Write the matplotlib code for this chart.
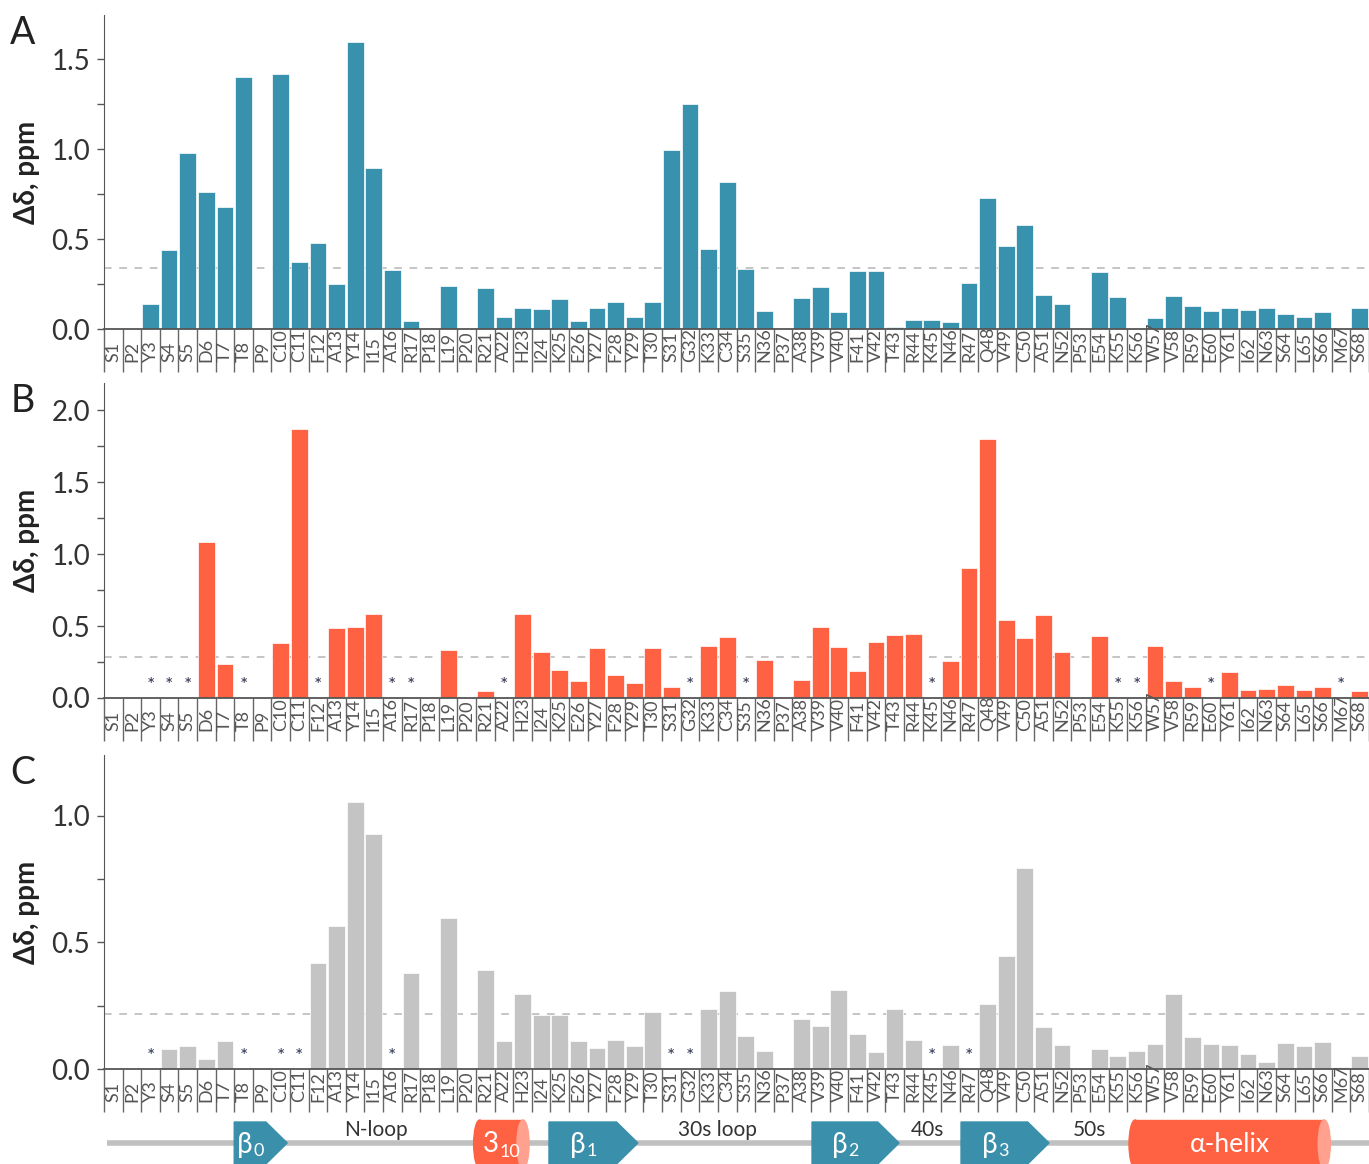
import matplotlib
matplotlib.use("Agg")
import matplotlib.pyplot as plt
import numpy as np
from matplotlib.patches import Polygon, Rectangle, Ellipse

plt.rcParams['font.family'] = ['Lato', 'DejaVu Sans']

sequence = "SPYSSDTTPCCFAYIARPLPRAHIKEYFYTSGKCSNPAVVFVTRKNRQVCANPEKKWVREYINSLSMS"
residues = [f"{aa}{i + 1}" for i, aa in enumerate(sequence)]

shift_a = [0, 0, 0.137, 0.437, 0.976, 0.763, 0.676, 1.402, 0, 1.419,
           0.370, 0.476, 0.250, 1.596, 0.893, 0.328, 0.046, 0, 0.241, 0,
           0.228, 0.065, 0.115, 0.109, 0.167, 0.043, 0.119, 0.148, 0.067, 0.152,
           0.994, 1.252, 0.443, 0.819, 0.335, 0.098, 0, 0.174, 0.233, 0.094,
           0.320, 0.320, 0.011, 0.052, 0.052, 0.037, 0.254, 0.730, 0.463, 0.580,
           0.189, 0.137, 0, 0.315, 0.178, 0, 0.059, 0.181, 0.126, 0.100,
           0.119, 0.107, 0.115, 0.081, 0.067, 0.093, 0, 0.119]

shift_b = [0, 0, 0, 0, 0, 1.084, 0.237, 0, 0, 0.379,
           1.872, 0, 0.486, 0.491, 0.586, 0, 0, 0, 0.333, 0,
           0.051, 0, 0.581, 0.319, 0.195, 0.121, 0.347, 0.163, 0.107, 0.347,
           0.079, 0, 0.360, 0.426, 0, 0.263, 0, 0.126, 0.495, 0.356,
           0.191, 0.388, 0.440, 0.444, 0, 0.258, 0.905, 1.802, 0.540, 0.416,
           0.577, 0.319, 0, 0.433, 0, 0, 0.360, 0.116, 0.077, 0,
           0.181, 0.056, 0.060, 0.093, 0.056, 0.079, 0, 0.051]

shift_c = [0, 0, 0, 0.079, 0.089, 0.039, 0.111, 0, 0, 0,
           0, 0.420, 0.566, 1.053, 0.930, 0, 0.378, 0, 0.595, 0,
           0.392, 0.111, 0.297, 0.213, 0.213, 0.111, 0.082, 0.114, 0.089, 0.226,
           0, 0, 0.238, 0.308, 0.129, 0.071, 0, 0.199, 0.170, 0.311,
           0.139, 0.068, 0.236, 0.113, 0, 0.095, 0, 0.258, 0.446, 0.793,
           0.164, 0.095, 0, 0.079, 0.053, 0.071, 0.097, 0.297, 0.126, 0.097,
           0.095, 0.061, 0.029, 0.103, 0.089, 0.105, 0.007, 0.053]

stars_a = []
stars_b = [3, 4, 5, 8, 12, 16, 17, 22, 32, 35, 45, 55, 56, 60, 67]
stars_c = [3, 8, 10, 11, 16, 31, 32, 45, 47]

thresholds = [0.339, 0.285, 0.217]

# secondary structure: (kind, start, end, main text, subscript)
structure = [
    ("strand", 7.5, 10.35, "β", "0"),
    ("helix", 20.37, 23.35, "3", "10"),
    ("strand", 24.42, 29.2, "β", "1"),
    ("strand", 38.56, 43.24, "β", "2"),
    ("strand", 46.57, 51.3, "β", "3"),
    ("helix", 55.6, 66.42, "α-helix", ""),
]
loops = [("N-loop", 15.1), ("30s loop", 33.5), ("40s", 44.75), ("50s", 53.5)]

W, H = 1369, 1164
fig = plt.figure(figsize=(W / 100, H / 100), dpi=100)


def px_axes(left, top, right, bottom):
    return fig.add_axes([left / W, 1 - bottom / H, (right - left) / W, (bottom - top) / H])


x = np.arange(1, len(residues) + 1)
panels = [
    ("A", shift_a, stars_a, "#3892ad", 1.745, (15, 329)),
    ("B", shift_b, stars_b, "#ff6243", 2.19, (383, 698)),
    ("C", shift_c, stars_c, "#c4c4c4", 1.24, (755, 1069)),
]

for (letter, vals, stars, color, ymax, (top, bottom)), thr in zip(panels, thresholds):
    ax = px_axes(104, top, 1369, bottom)
    vals = np.array(vals)
    keep = vals > 0
    ax.bar(x[keep], vals[keep], width=0.9, color=color, edgecolor='white',
           linewidth=0.5, zorder=3)
    ax.axhline(thr, color='#b5b5b5', lw=1.1, ls=(0, (5, 5)), zorder=1)
    for s in stars:
        ax.annotate('*', (s, 0), xytext=(0, 9), textcoords='offset points',
                    ha='center', va='center', fontsize=14, color='#2d3550')
    ax.set_xlim(0.5, 68.5)
    ax.set_ylim(0, ymax)
    for side in ('top', 'right'):
        ax.spines[side].set_visible(False)
    ax.spines['left'].set_color('#555555')
    ax.spines['bottom'].set_color('#555555')
    ax.spines['bottom'].set_linewidth(1.3)
    ax.spines['bottom'].set_zorder(4)
    ax.set_xticks([])
    ax.set_xticks(np.arange(0.5, 69), minor=True)
    ax.tick_params(axis='x', which='minor', length=31, width=1, color='#666666')
    ax.set_yticks(np.arange(0, ymax, 0.5))
    ax.set_yticks(np.arange(0.25, ymax, 0.5), minor=True)
    ax.tick_params(axis='y', which='both', length=5, width=1, color='#555555', pad=5)
    ax.set_yticklabels([f"{v:.1f}" for v in np.arange(0, ymax, 0.5)],
                       fontsize=20, color='#333333')
    for xi, name in zip(x, residues):
        ax.annotate(name, (xi, 0), xycoords=('data', 'axes fraction'), xytext=(0, -24),
                    textcoords='offset points', rotation=90, ha='center', va='bottom',
                    fontsize=13, color='#555555')
    ax.set_ylabel("Δδ, ppm", fontsize=20, fontweight='bold', color='#222222', labelpad=8)
    fig.text(23 / W, 1 - (top + 18) / H, letter, fontsize=27,
             color='#222222', ha='center', va='center')

# secondary structure track
ss = px_axes(104, 1112, 1369, 1164)
ss.set_xlim(0.5, 68.5)
ss.set_ylim(1164, 1112)
ss.axis('off')
ss.plot([0.66, 68.5], [1143, 1143], color='#c0c0c0', lw=4, solid_capstyle='butt', zorder=1)

blue = "#3a8fab"
red = "#ff6243"
for kind, start, end, main, sub in structure:
    if kind == "strand":
        rect_end = end - 1.15
        ss.add_patch(Polygon([(start, 1122), (rect_end, 1122), (end, 1143), (rect_end, 1164),
                              (start, 1164)], closed=True, color=blue, zorder=2, clip_on=False))
        cx = (start + rect_end) / 2
        ss.text(cx + 0.15, 1145, main, fontsize=20, color='white',
                ha='right', va='center', zorder=3)
        ss.text(cx + 0.2, 1151, sub, fontsize=13, color='white',
                ha='left', va='center', zorder=3)
    else:
        ew = 0.65
        ss.add_patch(Rectangle((start + ew / 2, 1120), end - start - ew, 48, color=red,
                               zorder=2, clip_on=False))
        ss.add_patch(Ellipse((start + ew / 2, 1144), ew, 48, color=red, zorder=2, clip_on=False))
        ss.add_patch(Ellipse((end - ew / 2, 1144), ew, 48, color='#ffa18e', zorder=3,
                             clip_on=False))
        cx = (start + end) / 2
        if sub:
            ss.text(cx - 0.15, 1144, main, fontsize=20, color='white',
                    ha='right', va='center', zorder=4)
            ss.text(cx - 0.1, 1152, sub, fontsize=13, color='white',
                    ha='left', va='center', zorder=4)
        else:
            ss.text(cx, 1144, main, fontsize=19, color='white',
                    ha='center', va='center', zorder=4)

for name, pos in loops:
    ss.text(pos, 1130, name, fontsize=15, color='#333333',
            ha='center', va='center')

fig.savefig("out.png", dpi=100)
